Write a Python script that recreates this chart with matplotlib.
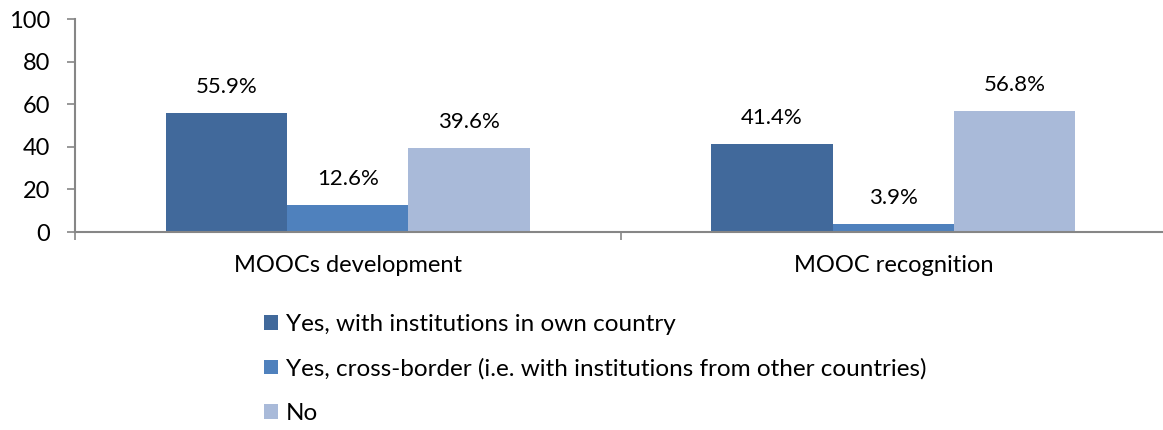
import numpy as np
import matplotlib.pyplot as plt
from matplotlib.patches import Patch

plt.rcParams['font.family'] = ['Lato', 'DejaVu Sans']

categories = ['MOOCs development', 'MOOC recognition']
series_names = ['Yes, with institutions in own country',
                'Yes, cross-border (i.e. with institutions from other countries)',
                'No']
own_country = [55.9, 41.4]
cross_border = [12.6, 3.9]
no_collab = [39.6, 56.8]
yticks = [0, 20, 40, 60, 80, 100]

colors = ['#41699B', '#4F81BD', '#A9BAD9']
axis_grey = '#868686'

fig = plt.figure(figsize=(11.63, 4.30), dpi=100)
ax = fig.add_axes([75 / 1163, 1 - 232 / 430, 1091 / 1163, 213 / 430])

x = np.arange(len(categories))
w = 1 / 4.5
values = [own_country, cross_border, no_collab]
for i, (vals, col) in enumerate(zip(values, colors)):
    pos = x + (i - 1) * w
    ax.bar(pos, vals, width=w, color=col, linewidth=0)
    for px, v in zip(pos, vals):
        ax.text(px, v + 7.5, f'{v:.1f}%', ha='center', va='bottom', fontsize=16)

ax.set_xlim(-0.5, 1.5)
ax.set_ylim(0, 100)
ax.set_yticks(yticks)
ax.tick_params(axis='y', labelsize=17, length=6, width=1.2, color=axis_grey, pad=12)
ax.set_xticks([-0.5, 0.5, 1.5])
ax.set_xticklabels([])
ax.tick_params(axis='x', length=6, width=1.2, color=axis_grey)
for px, name in zip(x, categories):
    ax.text(px, -11, name, ha='center', va='top', fontsize=17,
            transform=ax.transData)

for s in ['top', 'right']:
    ax.spines[s].set_visible(False)
for s in ['left', 'bottom']:
    ax.spines[s].set_color(axis_grey)
    ax.spines[s].set_linewidth(1.5)

handles = [Patch(facecolor=c, edgecolor='none') for c in colors]
fig.legend(handles, series_names, loc='upper left',
           bbox_to_anchor=(252 / 1163, 1 - 302 / 430), frameon=False,
           fontsize=17.5, handlelength=0.55, handleheight=0.55,
           handletextpad=0.35, labelspacing=0.95, borderpad=0)

fig.savefig('out.png', dpi=100)
